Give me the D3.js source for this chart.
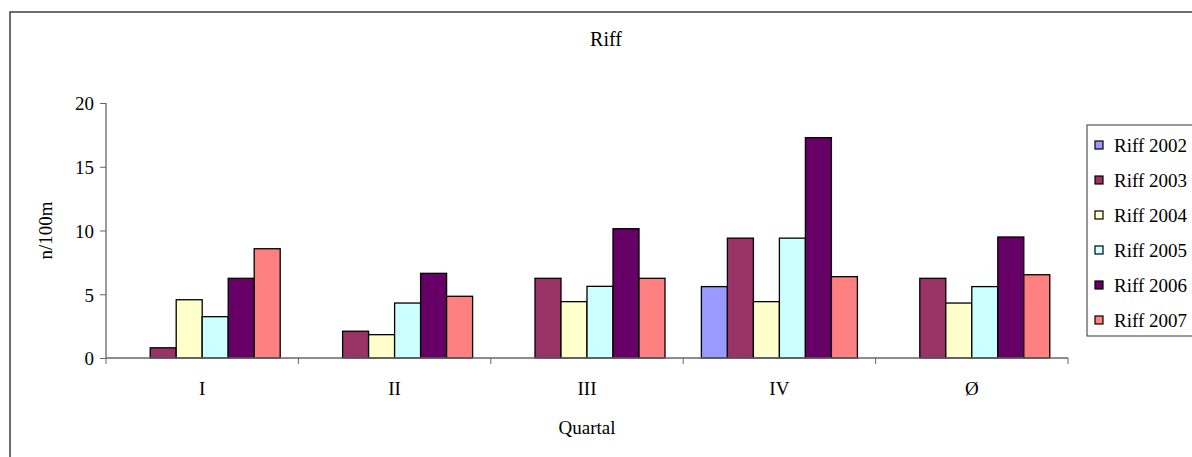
<!DOCTYPE html>
<html>
<head>
<meta charset="utf-8">
<script src="https://cdn.jsdelivr.net/npm/d3@7"></script>
<style>
  body { margin: 0; background: #fff; }
  text { font-family: "Liberation Serif", "Times New Roman", serif; fill: #000; }
</style>
</head>
<body>
<div id="chart"></div>
<script>
// data
const quarters = ["I", "II", "III", "IV", "Ø"];
const seriesNames = ["Riff 2002", "Riff 2003", "Riff 2004", "Riff 2005", "Riff 2006", "Riff 2007"];
const riff2002 = [null, null, null, 5.6, null];
const riff2003 = [0.8, 2.1, 6.25, 9.4, 6.25];
const riff2004 = [4.57, 1.83, 4.42, 4.42, 4.31];
const riff2005 = [3.24, 4.31, 5.62, 9.4, 5.6];
const riff2006 = [6.25, 6.64, 10.14, 17.28, 9.49];
const riff2007 = [8.57, 4.84, 6.25, 6.38, 6.53];
const yTicks = [0, 5, 10, 15, 20];
const seriesColors = ["#9999ff", "#993366", "#ffffcc", "#ccffff", "#660066", "#ff8080"];

const allSeries = [riff2002, riff2003, riff2004, riff2005, riff2006, riff2007];

const width = 1192, height = 457;
const plot = {left: 106, right: 1068, top: 103, bottom: 358};

const svg = d3.select("#chart").append("svg")
    .attr("width", width)
    .attr("height", height);

// outer chart frame (runs off the right and bottom edge)
svg.append("rect")
    .attr("x", 10).attr("y", 12)
    .attr("width", 1220).attr("height", 480)
    .attr("fill", "none")
    .attr("stroke", "#222")
    .attr("stroke-width", 1.3);

const x0 = d3.scaleBand()
    .domain(quarters)
    .range([plot.left, plot.right])
    .padding(0);
const x1 = d3.scaleBand()
    .domain(seriesNames)
    .range([0, x0.bandwidth()])
    .paddingInner(0)
    .paddingOuter(0.7);
const y = d3.scaleLinear()
    .domain([0, 20])
    .range([plot.bottom, plot.top]);

// title
svg.append("text")
    .attr("x", 606).attr("y", 46)
    .attr("text-anchor", "middle")
    .style("font-size", "20px")
    .text("Riff");

// bars
const groups = svg.selectAll(".quarter")
    .data(quarters)
    .enter().append("g")
    .attr("class", "quarter")
    .attr("transform", d => `translate(${x0(d)},0)`);

groups.selectAll("rect")
    .data((q, qi) => seriesNames.map((s, si) => ({s: s, si: si, v: allSeries[si][qi]}))
        .filter(d => d.v != null))
    .enter().append("rect")
    .attr("x", d => x1(d.s))
    .attr("y", d => y(d.v))
    .attr("width", x1.bandwidth())
    .attr("height", d => y(0) - y(d.v))
    .attr("fill", d => seriesColors[d.si])
    .attr("stroke", "#000")
    .attr("stroke-width", 1.3);

// y axis
const yAxis = svg.append("g")
    .attr("transform", `translate(${plot.left},0)`)
    .call(d3.axisLeft(y).tickValues(yTicks).tickSize(6).tickPadding(6));
// x axis
const xAxis = svg.append("g")
    .attr("transform", `translate(0,${plot.bottom})`)
    .call(d3.axisBottom(x0).tickSize(0).tickPadding(24));

// category boundary ticks, like the spreadsheet draws them
xAxis.selectAll(".sep")
    .data(d3.range(quarters.length + 1))
    .enter().append("line")
    .attr("class", "sep")
    .attr("x1", i => plot.left + i * x0.step())
    .attr("x2", i => plot.left + i * x0.step())
    .attr("y1", 0).attr("y2", 6)
    .attr("stroke", "#666");

[yAxis, xAxis].forEach(a => {
    a.selectAll(".domain").attr("stroke", "#666").attr("stroke-width", 1.3);
    a.selectAll(".tick line").attr("stroke", "#666");
    a.selectAll("text")
        .style("font-family", "'Liberation Serif', serif")
        .style("font-size", "19px")
        .attr("fill", "#000");
});
yAxis.select(".domain").attr("d", `M0,${plot.bottom}V${plot.top}`);
xAxis.select(".domain").attr("d", `M${plot.left},0H${plot.right}`);
yAxis.selectAll(".tick text").attr("dy", "0.36em");

// axis titles
svg.append("text")
    .attr("x", (plot.left + plot.right) / 2)
    .attr("y", 434)
    .attr("text-anchor", "middle")
    .style("font-size", "19px")
    .text("Quartal");

svg.append("text")
    .attr("transform", `translate(52,${(plot.top + plot.bottom) / 2}) rotate(-90)`)
    .attr("text-anchor", "middle")
    .style("font-size", "19px")
    .text("n/100m");

// legend
svg.append("rect")
    .attr("x", 1087).attr("y", 125)
    .attr("width", 130).attr("height", 211)
    .attr("fill", "#fff")
    .attr("stroke", "#333")
    .attr("stroke-width", 1);

const legend = svg.selectAll(".legend")
    .data(seriesNames)
    .enter().append("g")
    .attr("class", "legend")
    .attr("transform", (d, i) => `translate(1095,${145 + i * 35})`);

legend.append("rect")
    .attr("x", 0).attr("y", -4)
    .attr("width", 8).attr("height", 8)
    .attr("fill", (d, i) => seriesColors[i])
    .attr("stroke", "#000")
    .attr("stroke-width", 1.2);

legend.append("text")
    .attr("x", 19)
    .attr("dy", "0.35em")
    .style("font-family", "'Liberation Serif', serif")
    .style("font-size", "19px")
    .text(d => d);
</script>
</body>
</html>
